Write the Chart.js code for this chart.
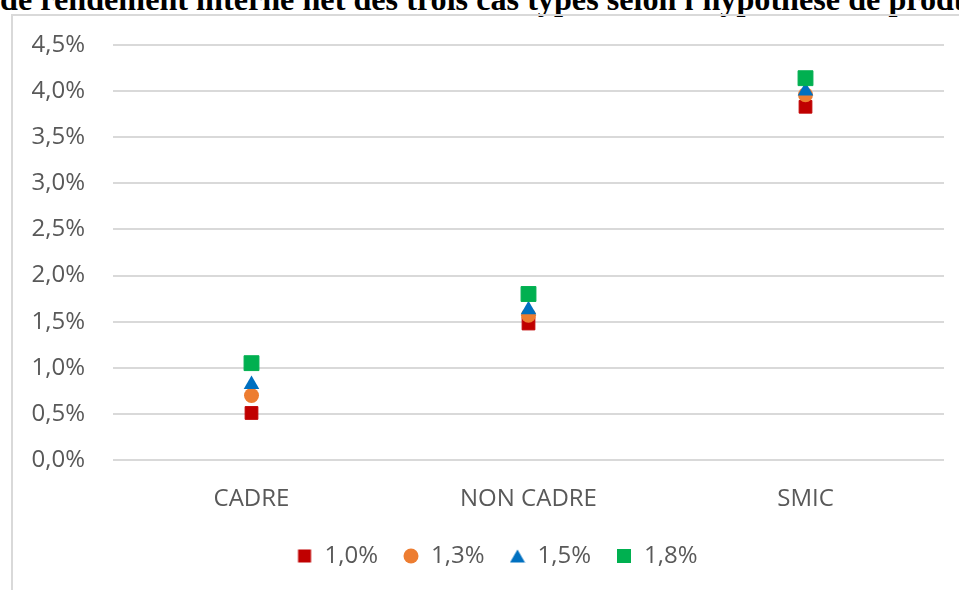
<!DOCTYPE html>
<html>
<head>
<meta charset="utf-8">
<script src="https://cdn.jsdelivr.net/npm/chart.js@4"></script>
<style>
  html, body { margin: 0; padding: 0; width: 959px; height: 590px; overflow: hidden; background: #fff; }
  #title { position: absolute; left: 0; top: -17px; white-space: nowrap;
           font: bold 32.2px/1 "Liberation Serif", "Times New Roman", serif; color: #000; }
  #box { position: absolute; left: 11px; top: 14px; width: 1000px; height: 600px;
         border-left: 2px solid #d9d9d9; border-top: 2px solid #d9d9d9; }
  #chart { position: absolute; left: 14px; top: 16px; }
</style>
</head>
<body>
<div id="title">de rendement interne net des trois cas types selon l'hypothèse de productivité</div>
<div id="box"></div>
<canvas id="chart" width="945" height="574"></canvas>
<script>
// données (en %)
const categories = ['CADRE', 'NON CADRE', 'SMIC'];
const seriesNames = ['1,0%', '1,3%', '1,5%', '1,8%'];
const prod10 = [0.51, 1.48, 3.83];
const prod13 = [0.70, 1.57, 3.96];
const prod15 = [0.82, 1.63, 4.00];
const prod18 = [1.05, 1.80, 4.14];
const yMin = 0;
const yMax = 4.5;
const yStep = 0.5;

const colors = ['#C00000', '#ED7D31', '#0070C0', '#00B050'];
const textColor = '#595959';
const font = "'Open Sans', 'Noto Sans', sans-serif";

// petits marqueurs pour la légende
function marker(kind, color) {
  const c = document.createElement('canvas');
  c.width = 16; c.height = 16;
  const ctx = c.getContext('2d');
  ctx.fillStyle = color;
  if (kind === 'rect') {
    ctx.fillRect(1, 1, 14, 14);
  } else if (kind === 'smallrect') {
    ctx.fillRect(1.5, 1.5, 13, 13);
  } else if (kind === 'circle') {
    ctx.beginPath(); ctx.arc(8, 8, 7.5, 0, Math.PI * 2); ctx.fill();
  } else {
    ctx.beginPath(); ctx.moveTo(8, 1.5); ctx.lineTo(15.5, 14.5); ctx.lineTo(0.5, 14.5); ctx.closePath(); ctx.fill();
  }
  return c;
}
const legendMarkers = [
  marker('smallrect', colors[0]),
  marker('circle', colors[1]),
  marker('triangle', colors[2]),
  marker('rect', colors[3])
];

// décale la légende un peu à droite, comme dans Excel
const legendShift = {
  id: 'legendShift',
  afterLayout: ch => { ch.legend.left += 18; ch.legend.right += 18; }
};

const chart = new Chart(document.getElementById('chart'), {
  type: 'line',
  data: {
    labels: categories,
    datasets: [
      { label: seriesNames[0], data: prod10, pointStyle: 'rect', pointRadius: 9, order: 3,
        backgroundColor: colors[0], borderColor: colors[0], pointBorderWidth: 1 },
      { label: seriesNames[1], data: prod13, pointStyle: 'circle', pointRadius: 7.5, order: 2,
        backgroundColor: colors[1], borderColor: colors[1], pointBorderWidth: 0 },
      { label: seriesNames[2], data: prod15, pointStyle: 'triangle', pointRadius: 9, order: 1,
        backgroundColor: colors[2], borderColor: colors[2], pointBorderWidth: 0 },
      { label: seriesNames[3], data: prod18, pointStyle: 'rect', pointRadius: 10.5, order: 0,
        backgroundColor: colors[3], borderColor: colors[3], pointBorderWidth: 1 }
    ].map(d => Object.assign(d, { showLine: false, pointHoverRadius: d.pointRadius }))
  },
  options: {
    responsive: false,
    animation: false,
    layout: { padding: { top: 29, right: 15, bottom: 12, left: 0 } },
    scales: {
      x: {
        offset: true,
        grid: { display: false },
        border: { display: false },
        ticks: { color: textColor, font: { family: font, size: 24 }, padding: 17 },
        afterFit: s => { s.height = 59; }
      },
      y: {
        min: yMin,
        max: yMax,
        grid: { color: '#d9d9d9', lineWidth: 2, drawTicks: false },
        border: { display: false },
        ticks: {
          stepSize: yStep,
          padding: 28,
          color: textColor,
          font: { family: font, size: 24 },
          callback: v => v.toFixed(1).replace('.', ',') + '%'
        },
        afterFit: s => { s.width = 99; s.paddingTop = 0; s.paddingBottom = 0; }
      }
    },
    plugins: {
      tooltip: { enabled: false },
      legend: {
        position: 'bottom',
        labels: {
          usePointStyle: true,
          boxWidth: 16,
          boxHeight: 16,
          padding: 25,
          color: textColor,
          font: { family: font, size: 24 },
          generateLabels: ch => {
            const items = Chart.defaults.plugins.legend.labels.generateLabels(ch);
            items.forEach(it => { it.pointStyle = legendMarkers[it.datasetIndex]; });
            return items.sort((a, b) => a.datasetIndex - b.datasetIndex);
          }
        }
      }
    }
  },
  plugins: [legendShift]
});
</script>
</body>
</html>
